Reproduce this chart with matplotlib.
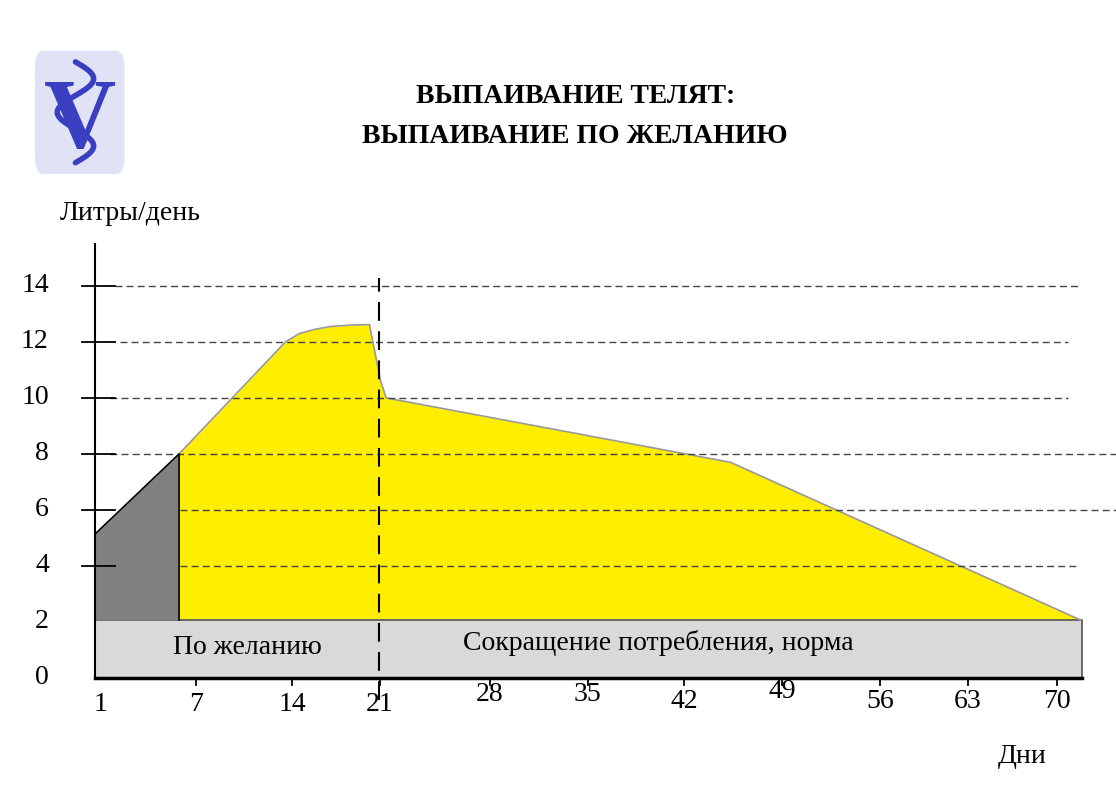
import numpy as np
import matplotlib.pyplot as plt
from matplotlib.patches import FancyBboxPatch, Rectangle

plt.rcParams['font.family'] = ['Liberation Serif', 'DejaVu Serif']

# данные (дни, литры/день)
gray_days = [1, 7]
gray_top = [5.14, 8.0]
base_level = 2.07

curve_days = [7, 14.6, 15.6, 16.7, 17.8, 19.2, 20.6, 21.4, 21.8, 46.4, 71.4]
curve_vals = [8.0, 12.0, 12.3, 12.45, 12.55, 12.6, 12.62, 10.6, 10.0, 7.7, 2.07]

y_ticks = [0, 2, 4, 6, 8, 10, 12, 14]
x_ticks = [1, 7, 14, 21, 28, 35, 42, 49, 56, 63, 70]
x_tick_dx = [0.36, 1.2, 1.1, 0.36, 1.2, 1.2, 1.1, 1.1, 1.1, 0.36, -0.3]
x_tick_dy = [0, 0, 0, 0, 0.35, 0.35, 0.1, 0.45, 0.1, 0.1, 0.1]

fig = plt.figure(figsize=(11.16, 7.9), dpi=100)
ax = fig.add_axes([0, 0, 1, 1])
ax.set_xlim(-5.79, 73.93)
ax.set_ylim(-4, 24.21)
ax.axis('off')

x_end = 71.5
fs = 20

# серая полоса "норма"
ax.add_patch(Rectangle((1, 0), x_end - 1, base_level, facecolor='#d9d9d9',
                       edgecolor='#555555', lw=1.2, zorder=2))

# жёлтая область
ax.fill_between(curve_days, base_level, curve_vals, color='#ffee00', zorder=1, lw=0)
ax.plot(curve_days, curve_vals, color='#999999', lw=1.2, zorder=3)

# серый треугольник (первая неделя)
ax.fill_between(gray_days, base_level, gray_top, color='#808080', zorder=3, lw=0)
ax.plot([1, 1, 7, 7], [base_level, gray_top[0], gray_top[1], base_level],
        color='black', lw=1.2, zorder=4)

# горизонтальные пунктирные линии
grid_start = {14: 2.4, 12: 2.8, 10: 2.1, 8: 2.1, 6: 7.1, 4: 7.1}
grid_end = {14: 71.2, 12: 70.5, 10: 70.5, 8: 74, 6: 74, 4: 71.2}
for v in [14, 12, 10, 8, 6, 4]:
    ax.plot([grid_start[v], grid_end[v]], [v, v], color='#444444', lw=1,
            ls=(0, (5, 3)), zorder=3.5)
    ax.plot([0.1, 2.4], [v, v], color='black', lw=1.3, zorder=4)

# вертикальная линия на 21 день
ax.plot([21.3, 21.3], [-0.8, 14.3], color='black', lw=1.5, ls=(0, (9, 5)), zorder=5)

# оси
ax.plot([1, 1], [0, 15.5], color='black', lw=1.5, zorder=5)
ax.plot([1, x_end], [0, 0], color='black', lw=2.5, zorder=5)
for d, dx in zip(x_ticks[1:], x_tick_dx[1:]):
    ax.plot([d + dx, d + dx], [0, -0.25], color='black', lw=1.3, zorder=5)

for v in y_ticks:
    ax.text(-2.3, v, str(v), fontsize=fs, ha='right', va='center')
for d, dx, dy in zip(x_ticks, x_tick_dx, x_tick_dy):
    ax.text(d + dx, -0.95 + dy, str(d), fontsize=fs, ha='center', va='center')

ax.text(3.5, 16.6, 'Литры/день', fontsize=fs, ha='center', va='center')
ax.text(67.2, -2.8, 'Дни', fontsize=fs, ha='center', va='center')
ax.text(11.9, 1.1, 'По желанию', fontsize=fs, ha='center', va='center', zorder=6)
ax.text(41.2, 1.25, 'Сокращение потребления, норма', fontsize=fs,
        ha='center', va='center', zorder=6)

ax.text(35.3, 20.75, 'ВЫПАИВАНИЕ ТЕЛЯТ:', fontsize=fs, fontweight='bold',
        ha='center', va='center')
ax.text(35.3, 19.32, 'ВЫПАИВАНИЕ ПО ЖЕЛАНИЮ', fontsize=fs, fontweight='bold',
        ha='center', va='center')

# логотип
ax.add_patch(FancyBboxPatch((-3.2, 18.1), 6.2, 4.2, boxstyle='round,pad=0.1,rounding_size=0.6',
                            facecolor='#dfe3f5', edgecolor='none', zorder=1))
ax.text(-0.1, 19.8, 'V', fontsize=72, color='#3a3ec0', ha='center', va='center',
        fontweight='bold', zorder=2)
t = np.linspace(0, 1, 60)
ax.plot(-0.4 + 1.3 * np.sin(t * 3 * np.pi), 22.0 - 3.6 * t, color='#3a3ec0',
        lw=4, zorder=3, solid_capstyle='round')

fig.savefig('out.png', dpi=100)
